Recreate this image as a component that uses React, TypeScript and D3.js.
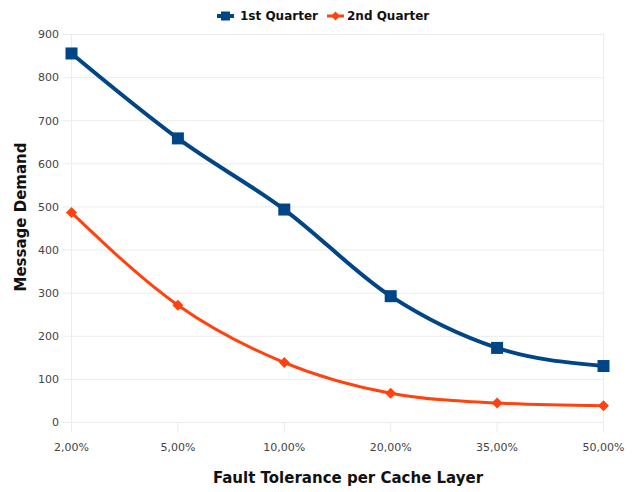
import React from "react";
import * as d3 from "d3";

const categories = ["2,00%", "5,00%", "10,00%", "20,00%", "35,00%", "50,00%"];
const q1Values = [856, 659, 494, 293, 173, 131];
const q2Values = [487, 272, 139, 68, 45, 39];
const yTicks = [0, 100, 200, 300, 400, 500, 600, 700, 800, 900];

const W = 639;
const H = 492;
const left = 71.5;
const right = 603.5;
const top = 34.5;
const bottom = 422.5;

const BLUE = "#004586";
const ORANGE = "#ff420e";
const GRID = "#ececec";
const FONT = "'DejaVu Sans', sans-serif";

export default function App() {
  const x = d3.scalePoint<string>().domain(categories).range([left, right]).padding(0);
  const y = d3.scaleLinear().domain([0, 900]).range([bottom, top]);

  const line = d3
    .line<number>()
    .x((_, i) => x(categories[i]) as number)
    .y((d) => y(d))
    .curve(d3.curveMonotoneX);

  const diamond = (cx: number, cy: number, r: number) =>
    `M${cx},${cy - r}L${cx + r},${cy}L${cx},${cy + r}L${cx - r},${cy}Z`;

  return (
    <svg
      width={W}
      height={H}
      style={{ position: "absolute", left: 0, top: 0, background: "#fff" }}
    >
      {/* horizontal grid */}
      {yTicks.map((t) => (
        <line key={t} x1={63} x2={right} y1={y(t)} y2={y(t)} stroke={GRID} strokeWidth={1} />
      ))}
      {/* frame verticals and category ticks */}
      <line x1={left} x2={left} y1={top} y2={bottom + 10} stroke={GRID} />
      <line x1={right} x2={right} y1={top} y2={bottom + 10} stroke={GRID} />
      {categories.map((c) => (
        <line key={c} x1={x(c)} x2={x(c)} y1={bottom} y2={bottom + 10} stroke={GRID} />
      ))}

      {/* y tick labels */}
      {yTicks.map((t) => (
        <text
          key={t}
          x={59}
          y={y(t)}
          dy="0.35em"
          textAnchor="end"
          fontFamily={FONT}
          fontSize={11}
          fill="#444"
        >
          {t}
        </text>
      ))}
      {/* x tick labels */}
      {categories.map((c) => (
        <text
          key={c}
          x={x(c)}
          y={447}
          dy="0.35em"
          textAnchor="middle"
          fontFamily={FONT}
          fontSize={11}
          fill="#444"
        >
          {c}
        </text>
      ))}

      {/* series lines */}
      <path d={line(q2Values) || ""} fill="none" stroke={ORANGE} strokeWidth={3} />
      <path d={line(q1Values) || ""} fill="none" stroke={BLUE} strokeWidth={4} />

      {/* markers */}
      {q2Values.map((v, i) => (
        <path key={i} d={diamond(x(categories[i]) as number, y(v), 5.5)} fill={ORANGE} />
      ))}
      {q1Values.map((v, i) => (
        <rect
          key={i}
          x={(x(categories[i]) as number) - 6}
          y={y(v) - 6}
          width={12}
          height={12}
          fill={BLUE}
        />
      ))}

      {/* legend */}
      <g>
        <line x1={217} x2={234} y1={16} y2={16} stroke={BLUE} strokeWidth={4} />
        <rect x={221} y={11.5} width={9} height={9} fill={BLUE} />
        <text x={240} y={16} dy="0.35em" fontFamily={FONT} fontSize={12} fontWeight="bold" fill="#111">
          1st Quarter
        </text>
        <line x1={327} x2={344} y1={16} y2={16} stroke={ORANGE} strokeWidth={3} />
        <path d={diamond(335.5, 16, 4.5)} fill={ORANGE} />
        <text x={347} y={16} dy="0.35em" fontFamily={FONT} fontSize={12} fontWeight="bold" fill="#111">
          2nd Quarter
        </text>
      </g>

      {/* axis titles */}
      <text
        x={348}
        y={478}
        dy="0.35em"
        textAnchor="middle"
        fontFamily={FONT}
        fontSize={15}
        fontWeight="bold"
        fill="#111"
      >
        Fault Tolerance per Cache Layer
      </text>
      <text
        transform={`translate(21, 217) rotate(-90)`}
        dy="0.35em"
        textAnchor="middle"
        fontFamily={FONT}
        fontSize={15}
        fontWeight="bold"
        fill="#111"
      >
        Message Demand
      </text>
    </svg>
  );
}
